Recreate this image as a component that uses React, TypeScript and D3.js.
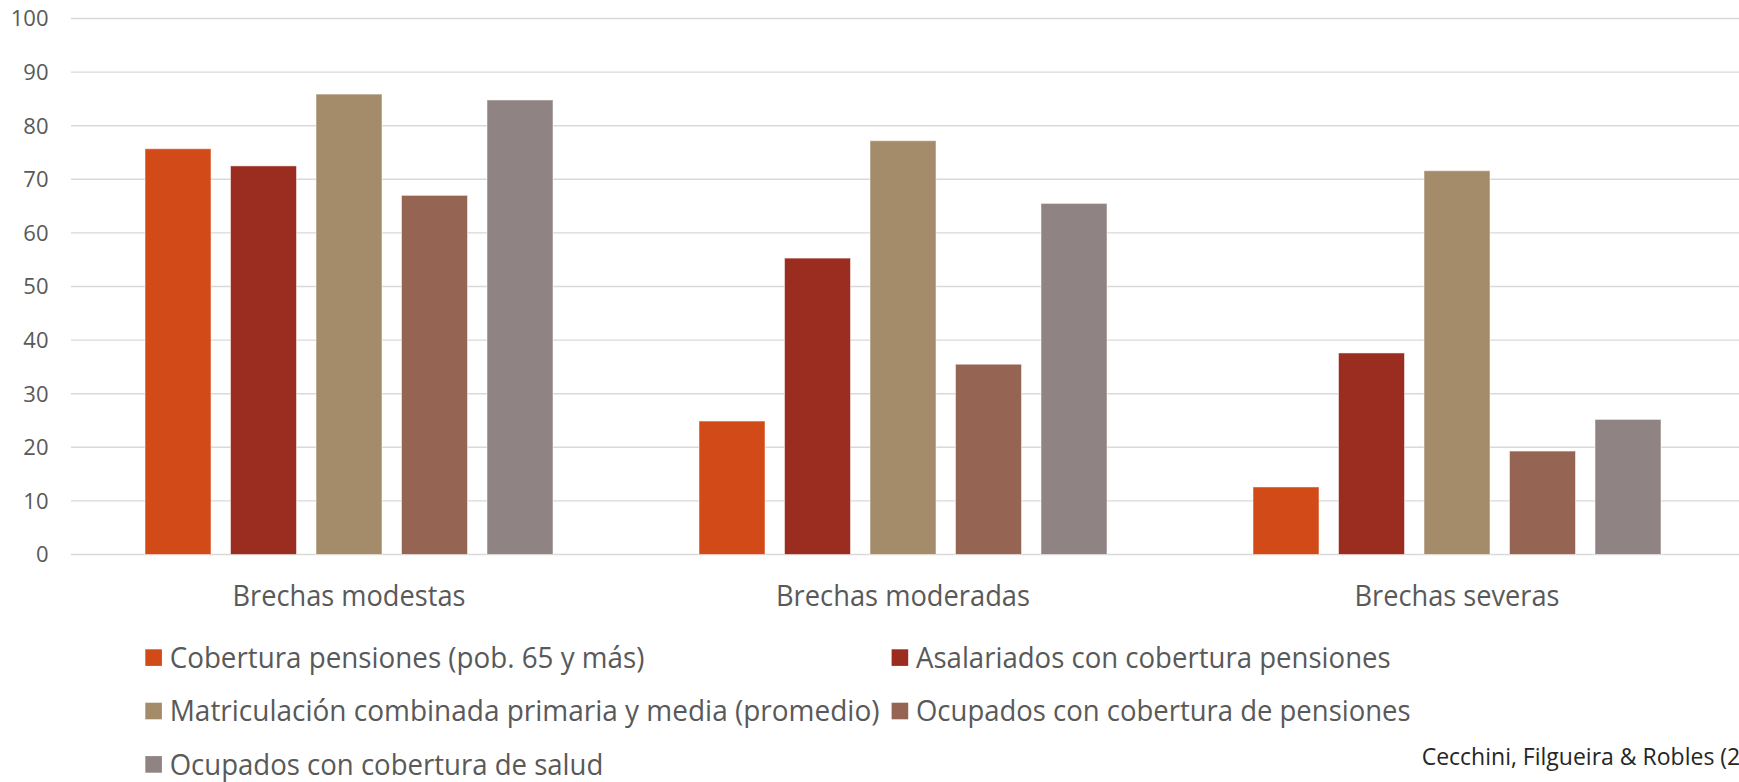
import React from "react";
import * as d3 from "d3";

const categories = ["Brechas modestas", "Brechas moderadas", "Brechas severas"];
const seriesNames = [
  "Cobertura pensiones (pob. 65 y más)",
  "Asalariados con cobertura pensiones",
  "Matriculación combinada primaria y media (promedio)",
  "Ocupados con cobertura de pensiones",
  "Ocupados con cobertura de salud",
];
const seriesColors = ["#D34A19", "#9B2C20", "#A48C6A", "#966452", "#908383"];
const coberturaPensiones65 = [75.7, 24.9, 12.6];
const asalariadosPensiones = [72.5, 55.3, 37.6];
const matriculacion = [85.9, 77.2, 71.6];
const ocupadosPensiones = [67.0, 35.5, 19.3];
const ocupadosSalud = [84.8, 65.5, 25.2];
const seriesValues = [coberturaPensiones65, asalariadosPensiones, matriculacion, ocupadosPensiones, ocupadosSalud];
const yTicks = [0, 10, 20, 30, 40, 50, 60, 70, 80, 90, 100];
const legendWidths = [474.7, 474.7, 709.8, 494.6, 433.6];
const sourceText = "Cecchini, Filgueira & Robles (2014)";

const W = 1739;
const H = 782;
const FONT = "'Open Sans', 'Noto Sans', sans-serif";
const TEXT = "#595959";

export default function App() {
  const x0 = d3.scaleBand<string>().domain(categories).range([72, 1734]).padding(0);
  const x1 = d3
    .scaleBand<number>()
    .domain(seriesNames.map((_, i) => i))
    .range([73, x0.bandwidth() - 73])
    .paddingInner(0.228)
    .paddingOuter(0);
  const y = d3.scaleLinear().domain([0, 100]).range([554.5, 18.5]);

  const tickFs = 22;
  const catFs = 29;
  const legFs = 29;
  const legendRowY = [657.6, 711, 764.4];
  const legendColX = [145.3, 891.6];
  const sw = 16.6;

  return (
    <svg
      width={W}
      height={H}
      style={{ position: "absolute", left: 0, top: 0, background: "#fff" }}
      fontFamily={FONT}
    >
      <rect x={0} y={0} width={W} height={H} fill="#fff" />
      {yTicks.map((t) => (
        <g key={t}>
          <line x1={71} x2={W} y1={y(t)} y2={y(t)} stroke="#D9D9D9" strokeWidth={1.4} />
          <text
            x={48.5}
            y={y(t) + 0.357 * tickFs}
            fontSize={tickFs}
            fill={TEXT}
            textAnchor="end"
          >
            {t}
          </text>
        </g>
      ))}
      {categories.map((c, ci) => (
        <g key={c} transform={`translate(${x0(c)},0)`}>
          {seriesValues.map((vals, si) => (
            <rect
              key={si}
              x={x1(si)}
              y={y(vals[ci])}
              width={x1.bandwidth()}
              height={y(0) - y(vals[ci])}
              fill={seriesColors[si]}
              stroke="#ffffff"
              strokeOpacity={0.5}
              strokeWidth={1}
            />
          ))}
          <text
            x={x0.bandwidth() / 2}
            y={595.5 + 0.357 * catFs}
            fontSize={catFs}
            fill={TEXT}
            textAnchor="middle"
            textLength={ci === 0 ? 233 : ci === 1 ? 254 : 205}
            lengthAdjust="spacingAndGlyphs"
          >
            {c}
          </text>
        </g>
      ))}
      {seriesNames.map((name, i) => {
        const col = i % 2;
        const row = Math.floor(i / 2);
        const cx = legendColX[col];
        const cy = legendRowY[row];
        return (
          <g key={name}>
            <rect x={cx} y={cy - sw / 2} width={sw} height={sw} fill={seriesColors[i]} />
            <text
              x={cx + 24.4}
              y={cy + 0.357 * legFs}
              fontSize={legFs}
              fill={TEXT}
              textLength={legendWidths[i]}
              lengthAdjust="spacingAndGlyphs"
            >
              {name}
            </text>
          </g>
        );
      })}
      <text x={1421.7} y={757 + 0.357 * 23} fontSize={23} fill="#262626">
        {sourceText}
      </text>
    </svg>
  );
}
